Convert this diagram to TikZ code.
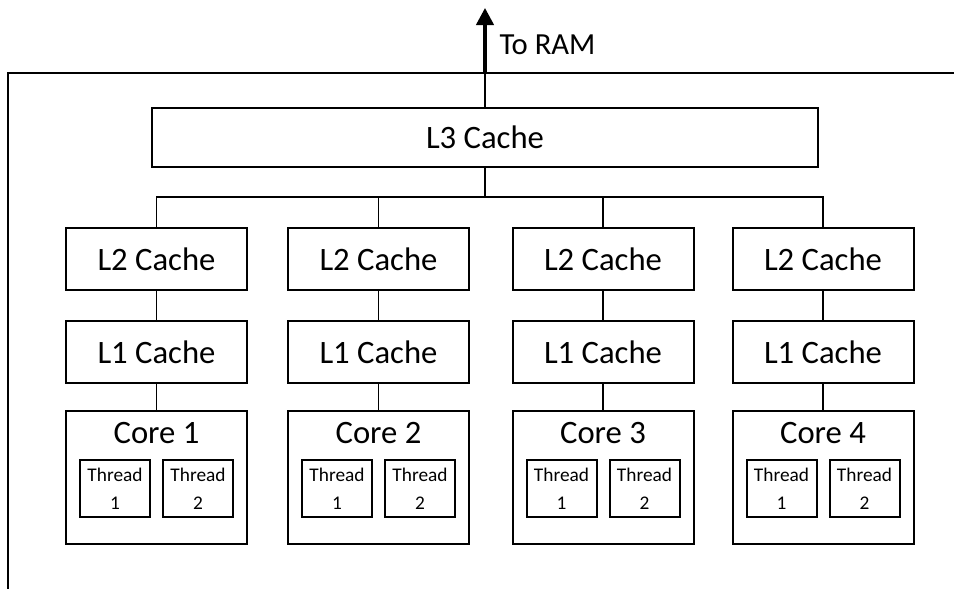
\documentclass[tikz,border=0pt]{standalone}
\usepackage{fontspec}
\setmainfont{Carlito}
\usetikzlibrary{arrows.meta}

\tikzset{every picture/.style={line width=0.75pt}}
\tikzset{
  cachebox/.style={draw,line width=1.5pt,inner sep=0pt,minimum width=135.75pt,minimum height=46.5pt,font=\fontsize{24.5}{29}\selectfont},
  corebox/.style={draw,line width=1.5pt,inner sep=0pt,minimum width=135.75pt,minimum height=99.75pt},
  threadbox/.style={draw,line width=1.5pt,inner sep=0pt,minimum width=52.5pt,minimum height=42.75pt,align=center,font=\fontsize{14.5}{21}\selectfont},
  wire/.style={line width=1pt}
}

\begin{document}
\begin{tikzpicture}[x=0.75pt,y=0.75pt,yscale=-1,xscale=1]
        \useasboundingbox (0,0) rectangle (954,589);

        %Shape: outer frame, open at right and bottom
        \draw [line width=1.2pt] (954,73) -- (8,73) -- (8,589);

        %Shape: L3 box
        \node [cachebox,minimum width=499.5pt,minimum height=44.25pt] (l3) at (485,137.5) {L3 Cache};
        \coordinate (bus) at (485,197);
        \coordinate (frametop) at (485,73);
        \coordinate (ram) at (485,8);

        % Arrow to RAM
        \draw [wire] (l3.north) -- (frametop);
        \draw [line width=2.4pt,-{Triangle[width=13pt,length=12.75pt]}] (frametop) -- (ram);
        % Text Node
        \node [anchor=west,inner sep=0pt,font=\fontsize{23}{27}\selectfont] (toram) at (499,45) {To RAM};

        \draw [wire] (l3.south) -- (bus);

        % one column per core
        \foreach \cx/\n in {156.5/1,378.5/2,603/3,823/4} {
          \node [cachebox] (ltwo\n) at (\cx,259) {L2 Cache};
          \node [cachebox] (lone\n) at (\cx,352) {L1 Cache};
          \node [corebox] (core\n) at (\cx,477.5) {};
          \node [inner sep=0pt,font=\fontsize{24.5}{29}\selectfont] (corename\n) at (\cx,433) {Core \n};
          \node [threadbox] (threada\n) at (\cx-41.5,488.5) {Thread\\1};
          \node [threadbox] (threadb\n) at (\cx+41.5,488.5) {Thread\\2};
          \draw [wire] (ltwo\n.north) |- (bus);
          \draw [wire] (ltwo\n.south) -- (lone\n.north);
          \draw [wire] (lone\n.south) -- (core\n.north);
        }

\end{tikzpicture}
\end{document}
